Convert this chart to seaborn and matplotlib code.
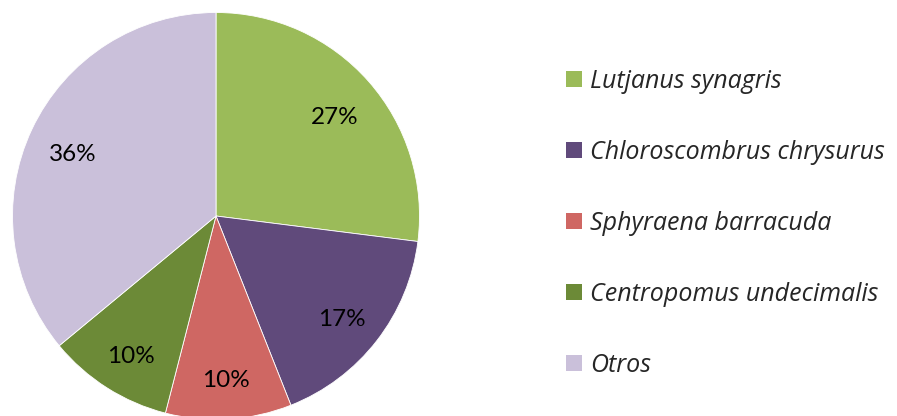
import numpy as np
import pandas as pd
import matplotlib
matplotlib.use("Agg")
import matplotlib.pyplot as plt
import matplotlib.patches as mpatches
import seaborn as sns

# datos del gráfico
especies = ["Lutjanus synagris", "Chloroscombrus chrysurus", "Sphyraena barracuda",
            "Centropomus undecimalis", "Otros"]
porcentajes = [27, 17, 10, 10, 36]
colores = ["#9BBB59", "#604A7B", "#CF6763", "#6C8A37", "#CAC0DA"]

df = pd.DataFrame({"Especie": especies, "Porcentaje": porcentajes})

sns.set_theme(style="white")
plt.rcParams["font.family"] = ["Lato", "DejaVu Sans"]

fig = plt.figure(figsize=(8.97, 4.16), dpi=100)
W, H = 897, 416
cx, cy, r = 216, 216, 203.5
ax = fig.add_axes([(cx - r) / W, (H - cy - r) / H, 2 * r / W, 2 * r / H])

wedges, texts, autotexts = ax.pie(
    df["Porcentaje"], colors=colores, startangle=90, counterclock=False,
    autopct="%1.0f%%", pctdistance=0.78, radius=1,
    wedgeprops={"linewidth": 0.6, "edgecolor": "white"},
    textprops={"fontsize": 17.5, "color": "black"})
# las etiquetas del original quedan un poco más abajo
for t in autotexts:
    x, y = t.get_position()
    t.set_position((x, y - 6 / r))
ax.set_xlim(-1, 1)
ax.set_ylim(-1, 1)
ax.axis("off")

# leyenda
handles = [mpatches.Patch(facecolor=c, edgecolor="none") for c in colores]
fig.legend(handles, especies, loc="upper left", bbox_to_anchor=(566 / W, 1 - 69 / H),
           frameon=False, prop={"family": ["Open Sans", "DejaVu Sans"], "style": "italic", "size": 18},
           handlelength=0.62, handleheight=0.62, handletextpad=0.36,
           labelspacing=1.84, borderaxespad=0, borderpad=0)

fig.savefig("out.png", dpi=100, facecolor="white")
